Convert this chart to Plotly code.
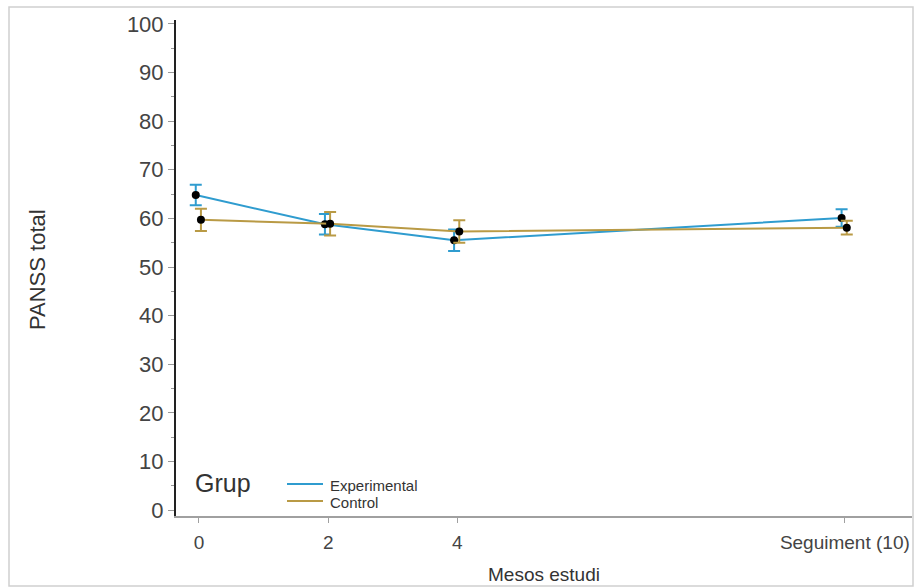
import plotly.graph_objects as go

# Study months (the last visit is the 10-month follow-up)
months = [0, 2, 4, 10]
month_labels = ["0", "2", "4", "Seguiment (10)"]

# PANSS total: group means and error-bar half widths
exp_mean = [64.8, 58.8, 55.5, 60.1]
exp_err = [2.1, 2.1, 2.2, 1.8]
ctl_mean = [59.7, 58.9, 57.3, 58.1]
ctl_err = [2.3, 2.4, 2.3, 1.4]

groups = ["Experimental", "Control"]
exp_color = "#2f9ccf"
ctl_color = "#b99a45"
font_family = "Liberation Sans, Arial, sans-serif"

# plot-area geometry in pixels, used to place paper-referenced items
L, R, T, B = 176, 5, 20, 72
W, H = 917, 588
PW, PH = W - L - R, H - T - B


def px(x):
    return (x - L) / PW


def py(y):
    return (H - B - y) / PH


# small horizontal dodge so the two groups do not overlap
exp_x = [m - 0.05 for m in months]
ctl_x = [m + 0.03 for m in months]

fig = go.Figure()

for name, xs, ys, errs, col in [
    (groups[0], exp_x, exp_mean, exp_err, exp_color),
    (groups[1], ctl_x, ctl_mean, ctl_err, ctl_color),
]:
    fig.add_trace(go.Scatter(
        x=xs, y=ys, mode="lines+markers", name=name, showlegend=False,
        line=dict(color=col, width=2),
        marker=dict(color="black", size=8),
        error_y=dict(type="data", array=errs, color=col, thickness=2, width=6),
    ))

# hand-placed legend: title, line swatches and labels
legend_rows = [(groups[0], exp_color, 484), (groups[1], ctl_color, 501)]
shapes = [
    dict(type="rect", xref="paper", yref="paper",
         x0=px(9), x1=px(913), y0=py(586), y1=py(7),
         line=dict(color="#d0d0d0", width=1.5)),
]
annotations = [
    dict(text="PANSS total", xref="paper", yref="paper",
         x=px(37), y=py(270), textangle=-90, xanchor="center", yanchor="middle",
         showarrow=False, font=dict(size=22, color="#333333")),
    dict(text="Mesos estudi", xref="paper", yref="paper",
         x=px(544), y=py(574), xanchor="center", yanchor="middle",
         showarrow=False, font=dict(size=19, color="#333333")),
    dict(text="Grup", xref="paper", yref="paper",
         x=px(193), y=py(483), xanchor="left", yanchor="middle",
         showarrow=False, font=dict(size=25, color="#333333")),
]
for label, col, yy in legend_rows:
    shapes.append(dict(type="line", xref="paper", yref="paper",
                       x0=px(287), x1=px(323), y0=py(yy), y1=py(yy),
                       line=dict(color=col, width=2)))
    annotations.append(dict(text=label, xref="paper", yref="paper",
                            x=px(328), y=py(yy + 1), xanchor="left", yanchor="middle",
                            showarrow=False, font=dict(size=15, color="#333333")))

fig.update_layout(
    width=W, height=H,
    margin=dict(l=L, r=R, t=T, b=B),
    paper_bgcolor="white", plot_bgcolor="white",
    font=dict(family=font_family, color="#333333"),
    showlegend=False,
    xaxis=dict(
        range=[-0.356, 11.04], tickvals=months, ticktext=month_labels,
        showgrid=False, zeroline=False,
        showline=True, linecolor="#a0a0a0", linewidth=1.5,
        ticks="outside", ticklen=5, tickcolor="#a0a0a0",
        tickfont=dict(size=19, color="#444444"),
        ticklabelstandoff=3,
    ),
    yaxis=dict(
        range=[-1.2, 100.8], tickvals=list(range(0, 101, 10)),
        showgrid=False, zeroline=False,
        showline=True, linecolor="#222222", linewidth=2,
        ticks="outside", ticklen=6, tickcolor="#999999",
        tickfont=dict(size=22, color="#444444"),
        minor=dict(dtick=5, ticks="outside", ticklen=3, tickcolor="#999999"),
    ),
    annotations=annotations,
    shapes=shapes,
)

fig.write_html("out.html")
